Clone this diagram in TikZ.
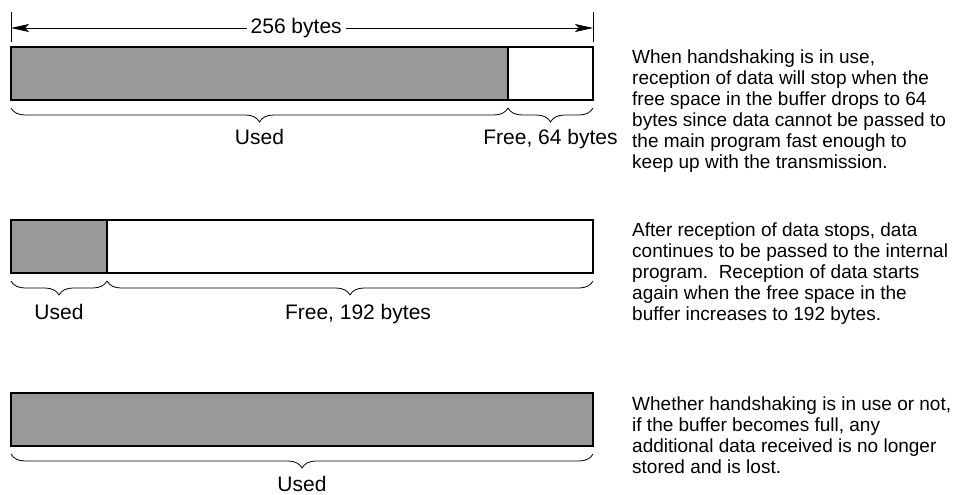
\documentclass[tikz,border=0pt]{standalone}
\usepackage{fontspec}
\setmainfont{Liberation Sans}
\usetikzlibrary{positioning}
\usetikzlibrary{decorations.pathreplacing}
\usetikzlibrary{arrows.meta}
\definecolor{usedgray}{gray}{0.6}
\tikzset{%
  % Specifications for style of nodes:
    >={Stealth[length=18pt,width=8pt,inset=4pt]},
    seg/.style={draw, line width=1.5pt, minimum height=53pt, inner sep=0, outer sep=0},
    usedseg/.style={seg, fill=usedgray},
    freeseg/.style={seg, fill=white},
    brc/.style={decorate, decoration={brace, amplitude=14pt}, line width=0.8pt},
    lbl/.style={font=\fontsize{21}{23}\selectfont, inner sep=0, anchor=base},
    note/.style={font=\fontsize{19}{21}\selectfont, align=left, inner sep=0, anchor=west},
}

\begin{document}
\begin{tikzpicture}[x=1pt,y=1pt]
    \useasboundingbox (0,0) rectangle (958,-495);
    % full buffer, 64 bytes left
    \node[usedseg, minimum width=497pt, anchor=north west] (used1) at (11,-47) {};
    \node[freeseg, minimum width=85pt, right=0pt of used1] (free1) {};
    \draw[line width=0.8pt] ([yshift=5pt]used1.north west) -- ++(0,30);
    \draw[line width=0.8pt] ([yshift=5pt]free1.north east) -- ++(0,30);
    \draw[<->, line width=0.8pt] ([yshift=19pt]used1.north west) -- ([yshift=19pt]free1.north east)
        node[pos=0.49, fill=white, inner xsep=4pt, inner ysep=0, font=\fontsize{21}{23}\selectfont] (total1) {256 bytes};
    \draw[brc] ([yshift=-8pt]used1.south east) -- ([yshift=-8pt]used1.south west);
    \draw[brc] ([yshift=-8pt]free1.south east) -- ([yshift=-8pt]free1.south west);
    \node[lbl] (usedlbl1) at ([yshift=-44pt]used1.south) {Used};
    \node[lbl] (freelbl1) at ([yshift=-44pt]free1.south) {Free, 64 bytes};

    % buffer after reception stops
    \node[usedseg, minimum width=96pt, anchor=north west] (used2) at (11,-220) {};
    \node[freeseg, minimum width=486pt, right=0pt of used2] (free2) {};
    \draw[brc] ([yshift=-8pt]used2.south east) -- ([yshift=-8pt]used2.south west);
    \draw[brc] ([yshift=-8pt]free2.south east) -- ([yshift=-8pt]free2.south west);
    \node[lbl] (usedlbl2) at ([yshift=-46pt]used2.south) {Used};
    \node[lbl] (freelbl2) at ([xshift=8pt,yshift=-46pt]free2.south) {Free, 192 bytes};

    % buffer full
    \node[usedseg, minimum width=582pt, anchor=north west] (used3) at (11,-393) {};
    \draw[brc] ([yshift=-8pt]used3.south east) -- ([yshift=-8pt]used3.south west);
    \node[lbl] (usedlbl3) at ([yshift=-45pt]used3.south) {Used};

    % explanations
    \node[note] (note1) at (632,-111.5) {When handshaking is in use,\\
        reception of data will stop when the\\
        free space in the buffer drops to 64\\
        bytes since data cannot be passed to\\
        the main program fast enough to\\
        keep up with the transmission.};
    \node[note] (note2) at (632,-274) {After reception of data stops, data\\
        continues to be passed to the internal\\
        program.\ \ Reception of data starts\\
        again when the free space in the\\
        buffer increases to 192 bytes.};
    \node[note] (note3) at (632,-435) {Whether handshaking is in use or not,\\
        if the buffer becomes full, any\\
        additional data received is no longer\\
        stored and is lost.};
\end{tikzpicture}
\end{document}
